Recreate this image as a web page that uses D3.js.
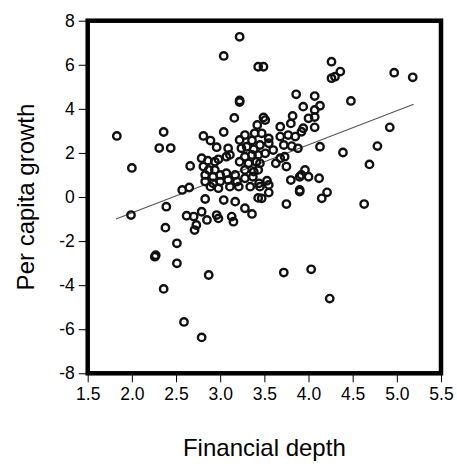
<!DOCTYPE html>
<html lang="en">
<head>
    <meta charset="UTF-8">
    <script src="https://cdn.jsdelivr.net/npm/d3@7"></script>
    <title>Financial depth vs growth</title>
    <style>
        body { margin: 0; background: white; }
        text { font-family: "Liberation Sans", Arial, sans-serif; fill: black; }
    </style>
</head>
<body>
<div id="chart"></div>
<script>
    // financial depth (x) and per capita growth (y)
    const depth = [
        1.83, 2.00, 1.99, 2.36, 2.31, 2.44, 2.39, 2.38, 2.51, 2.26,
        2.27, 2.51, 2.36, 2.87, 2.59, 2.79, 2.66, 2.81, 2.89, 2.96,
        3.04, 3.16, 3.22, 3.04, 3.22, 3.22, 3.43, 3.49, 3.09, 4.26,
        4.36, 4.30, 4.26, 4.97, 5.18, 4.48, 3.86, 4.07, 3.94, 4.13,
        4.07, 3.82, 4.00, 4.07, 3.49, 3.80, 4.07, 3.94, 3.68, 3.42,
        3.51, 4.92, 4.13, 4.39, 4.78, 4.69, 3.88, 3.81, 3.68, 3.55,
        3.60, 3.51, 3.73, 3.63, 3.75, 3.96, 3.92, 4.00, 4.12, 3.80,
        3.90, 3.90, 4.21, 4.15, 3.53, 3.44, 3.37, 3.75, 4.63, 3.47,
        3.55, 3.36, 3.72, 4.03, 4.24, 3.47, 3.77, 3.85, 3.92, 3.45,
        3.55, 3.43, 3.72, 3.68, 3.43, 3.45, 3.90, 3.55, 3.45, 3.28,
        3.39, 3.22, 3.36, 3.24, 3.30, 3.38, 2.79, 2.86, 2.94, 2.98,
        3.11, 3.07, 3.28, 3.36, 3.22, 3.32, 3.41, 2.81, 2.87, 2.94,
        2.83, 2.92, 3.00, 3.07, 3.17, 3.28, 3.38, 2.83, 2.92, 3.00,
        3.09, 3.19, 3.28, 2.57, 2.65, 2.89, 2.98, 3.11, 3.21, 3.34,
        2.83, 3.04, 3.17, 3.28, 2.62, 2.70, 2.79, 2.85, 2.96, 2.98,
        3.13, 3.15, 2.73, 2.71, 3.43
    ];
    const growth = [
        2.77, 1.32, -0.82, 2.95, 2.22, 2.22, -0.44, -1.39, -2.10, -2.71,
        -2.64, -3.01, -4.17, -3.54, -5.67, -6.37, 1.41, 2.77, 2.56, 2.26,
        2.95, 3.59, 7.27, 6.40, 4.31, 4.38, 5.91, 5.91, 2.21, 6.14,
        5.69, 5.46, 5.39, 5.64, 5.43, 4.36, 4.66, 4.58, 4.10, 4.14,
        3.95, 3.68, 3.57, 3.63, 3.61, 3.34, 3.16, 3.12, 3.19, 3.27,
        3.49, 3.16, 2.28, 2.02, 2.31, 1.48, 2.21, 2.31, 2.74, 2.66,
        2.13, 1.98, 1.83, 1.53, 1.38, 1.23, 1.00, 0.92, 0.85, 0.77,
        0.32, 0.25, 0.21, -0.06, 0.74, 0.62, 0.92, -0.32, -0.32, -0.06,
        0.20, -0.77, -3.43, -3.28, -4.61, 2.89, 2.81, 2.74, 2.96, 2.36,
        2.44, 1.91, 2.36, 1.76, 1.23, 1.53, 0.92, 0.55, 0.47, 2.81,
        2.89, 2.59, 2.56, 2.21, 2.28, 2.17, 1.76, 1.65, 1.60, 1.71,
        1.91, 1.83, 1.83, 1.91, 1.60, 1.53, 1.60, 1.38, 1.23, 1.23,
        1.00, 0.92, 1.00, 1.08, 1.00, 1.23, 1.15, 0.70, 0.62, 0.70,
        0.77, 0.70, 0.85, 0.32, 0.43, 0.47, 0.40, 0.47, 0.47, 0.47,
        -0.09, -0.14, -0.21, -0.51, -0.85, -0.89, -0.67, -1.04, -0.82, -0.97,
        -0.89, -1.12, -1.27, -1.50, -0.04
    ];
    // ends of the fitted line
    const fitX = [1.82, 5.19];
    const fitY = [-1.00, 4.21];

    const xTicks = [1.5, 2.0, 2.5, 3.0, 3.5, 4.0, 4.5, 5.0, 5.5];
    const yTicks = [-8, -6, -4, -2, 0, 2, 4, 6, 8];

    const width = 457, height = 468;
    const margin = {top: 20.7, right: 16, bottom: 94.7, left: 87.7};

    const svg = d3.select("#chart").append("svg")
        .attr("width", width)
        .attr("height", height);

    const x = d3.scaleLinear().domain([1.5, 5.5]).range([margin.left, width - margin.right]);
    const y = d3.scaleLinear().domain([-8, 8]).range([height - margin.bottom, margin.top]);

    // axes
    const xAxis = svg.append("g")
        .attr("transform", `translate(0,${height - margin.bottom})`)
        .call(d3.axisBottom(x).tickValues(xTicks).tickFormat(d3.format(".1f")).tickSizeOuter(0).tickSize(9).tickPadding(5));
    const yAxis = svg.append("g")
        .attr("transform", `translate(${margin.left},0)`)
        .call(d3.axisLeft(y).tickValues(yTicks).tickFormat(d => d).tickSizeOuter(0).tickSize(9).tickPadding(4));

    [xAxis, yAxis].forEach(g => {
        g.select(".domain").remove();
        g.selectAll(".tick line").attr("stroke", "black").attr("stroke-width", 1);
        g.selectAll(".tick text").style("font-size", "17.5px");
    });

    // thick frame
    svg.append("rect")
        .attr("x", margin.left)
        .attr("y", margin.top)
        .attr("width", width - margin.right - margin.left)
        .attr("height", height - margin.bottom - margin.top)
        .attr("fill", "none")
        .attr("stroke", "black")
        .attr("stroke-width", 4.5);

    // fitted line
    svg.append("line")
        .attr("x1", x(fitX[0])).attr("y1", y(fitY[0]))
        .attr("x2", x(fitX[1])).attr("y2", y(fitY[1]))
        .attr("stroke", "#555")
        .attr("stroke-width", 1.2);

    // points
    svg.append("g")
        .selectAll("circle")
        .data(d3.range(depth.length))
        .enter()
        .append("circle")
        .attr("cx", i => x(depth[i]))
        .attr("cy", i => y(growth[i]))
        .attr("r", 3.7)
        .attr("fill", "none")
        .attr("stroke", "#111")
        .attr("stroke-width", 2.4);

    // axis titles
    svg.append("text")
        .attr("x", (margin.left + width - margin.right) / 2)
        .attr("y", 456)
        .attr("text-anchor", "middle")
        .style("font-size", "24px")
        .text("Financial depth");

    svg.append("text")
        .attr("transform", `translate(34,${(margin.top + height - margin.bottom) / 2}) rotate(-90)`)
        .attr("text-anchor", "middle")
        .style("font-size", "24px")
        .text("Per capita growth");
</script>
</body>
</html>
